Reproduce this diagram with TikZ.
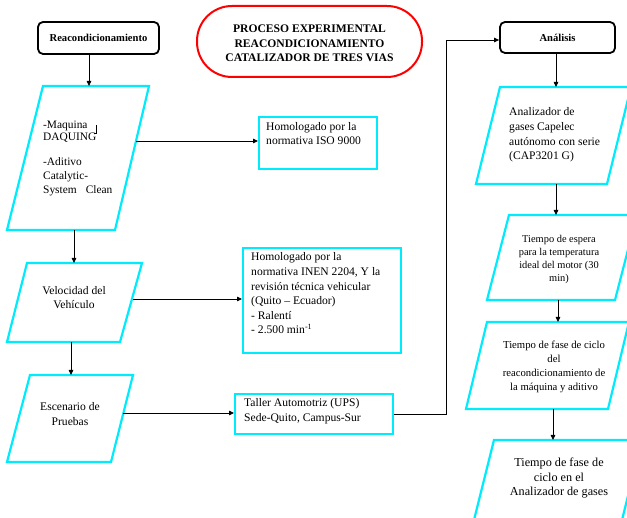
\documentclass[tikz,border=0pt]{standalone}
\usepackage{fontspec}
\setmainfont{Liberation Serif}
\usetikzlibrary{arrows.meta}
\definecolor{cy}{RGB}{0,236,252}
\begin{document}
\begin{tikzpicture}[x=1pt,y=-1pt,
  para/.style={draw=cy, line width=2.2pt, line join=miter},
  cbox/.style={draw=cy, line width=2.2pt, inner sep=0pt, anchor=north west},
  rbox/.style={draw=black, line width=1.8pt, rounded corners=5pt, inner sep=0pt,
    font=\fontsize{10.6}{12}\selectfont\bfseries},
  conn/.style={-{Triangle[length=5pt,width=4.5pt]}, line width=0.8pt},
  txt/.style={inner sep=0pt, font=\fontsize{11.6}{14}\selectfont},
  ]
\useasboundingbox (0,0) rectangle (627,518);
\clip (0,0) rectangle (627,518);

% title
\node[draw=red, line width=2pt, rounded corners=35pt, minimum width=225pt, minimum height=71pt,
  inner sep=0pt] (title) at (309.5,41.5) {};
\node[inner sep=0pt, align=center, font=\fontsize{11.6}{14.5}\selectfont\bfseries] (titletext) at (309.5,43.5)
  {PROCESO EXPERIMENTAL\\REACONDICIONAMIENTO\\CATALIZADOR DE TRES VIAS};

% rounded black boxes
\node[rbox, minimum width=121pt, minimum height=32pt] (reac) at (98.5,38) {Reacondicionamiento};
\node[rbox, minimum width=115pt, minimum height=31pt] (anal) at (557.5,37.5) {Análisis};

% left parallelograms
\draw[para] (43,86) -- (149,86) -- (115,230) -- (7,230) -- cycle;
\draw[para] (27,263) -- (142,263) -- (120,342) -- (7,342) -- cycle;
\draw[para] (30,375) -- (133,375) -- (111,462) -- (7,462) -- cycle;

% right parallelograms (cut by the page edge)
\draw[para] (500,87) -- (631,87) -- (607,184) -- (476,184) -- cycle;
\draw[para] (509,215) -- (637,215) -- (615,300) -- (487,300) -- cycle;
\draw[para] (487,322) -- (629,322) -- (608,409) -- (466,409) -- cycle;
\draw[para] (494,440) -- (642,440) -- (612,560) -- (464,560) -- cycle;

% cyan rectangles
\node[cbox, minimum width=118pt, minimum height=52pt] (iso) at (258,116) {};
\node[cbox, minimum width=158pt, minimum height=105pt] (inen) at (242,247) {};
\node[cbox, minimum width=158pt, minimum height=40pt] (taller) at (234,393) {};

% texts
\node[txt, anchor=west, align=left, font=\fontsize{11.4}{11.5}\selectfont] (p1a) at (43,131.5) {-Maquina\\DAQUING};
\draw[line width=0.5pt] (96,125) -- (96,133) -- (94,133);
\node[txt, anchor=west, align=left, font=\fontsize{11.4}{14}\selectfont] (p1b) at (43,177) {-Aditivo\\Catalytic-\\System\hspace{9pt}Clean};
\node[txt, anchor=west, align=left, font=\fontsize{11.6}{13.5}\selectfont] (isotext) at (266,133.5) {Homologado por la\\normativa ISO 9000};
\node[txt, align=center, font=\fontsize{11.6}{13.5}\selectfont] (p2text) at (74,297.5) {Velocidad del\\Vehículo};
\node[txt, anchor=west, align=left, font=\fontsize{11.6}{14.6}\selectfont] (inentext) at (251,293.5)
  {Homologado por la\\normativa INEN 2204, Y la\\revisión técnica vehicular\\(Quito – Ecuador)\\- Ralentí\\- 2.500 min\textsuperscript{-1}};
\node[txt, align=center, font=\fontsize{11.6}{15}\selectfont] (p3text) at (70,414.5) {Escenario de\\Pruebas};
\node[txt, anchor=west, align=left, font=\fontsize{11.6}{15}\selectfont] (tallertext) at (244,411.5)
  {Taller Automotriz (UPS)\\Sede-Quito, Campus-Sur};
\node[txt, anchor=west, align=left, font=\fontsize{11.6}{14.7}\selectfont] (p4text) at (509,135)
  {Analizador de\\gases Capelec\\autónomo con serie\\(CAP3201 G)};
\node[txt, align=center, font=\fontsize{10.4}{13}\selectfont] (p5text) at (559,259.5)
  {Tiempo de espera\\para la temperatura\\ideal del motor (30\\min)};
\node[txt, align=center, font=\fontsize{10.7}{14}\selectfont] (p6text) at (554,367)
  {Tiempo de fase de ciclo\\del\\reacondicionamiento de\\la máquina y aditivo};
\node[txt, align=center, font=\fontsize{12.2}{14.5}\selectfont] (p7text) at (559,478.5)
  {Tiempo de fase de\\ciclo en el\\Analizador de gases};

% connector end points on the parallelograms
\coordinate (p1t) at (89,86);
\coordinate (p1r) at (136,141);
\coordinate (p1b) at (74,230);
\coordinate (p2t) at (74,263);
\coordinate (p2r) at (133,299);
\coordinate (p2b) at (71,342);
\coordinate (p3t) at (71,375);
\coordinate (p3r) at (123,413);
\coordinate (bend) at (446,40);
\coordinate (p4t) at (556,87);
\coordinate (p4b) at (556,184);
\coordinate (p5t) at (556,215);
\coordinate (p5b) at (558,300);
\coordinate (p6t) at (558,322);
\coordinate (p6b) at (553,409);
\coordinate (p7t) at (553,440);

% connectors
\draw[conn] (reac.south -| p1t) -- (p1t);
\draw[conn] (p1r) -- (p1r -| iso.west);
\draw[conn] (p1b) -- (p2t);
\draw[conn] (p2r) -- (p2r -| inen.west);
\draw[conn] (p2b) -- (p3t);
\draw[conn] (p3r) -- (p3r -| taller.west);
\draw[conn] (taller.east) -| (bend) -- (bend -| anal.west);
\draw[conn] (anal.south -| p4t) -- (p4t);
\draw[conn] (p4b) -- (p5t);
\draw[conn] (p5b) -- (p6t);
\draw[conn] (p6b) -- (p7t);
\end{tikzpicture}
\end{document}
